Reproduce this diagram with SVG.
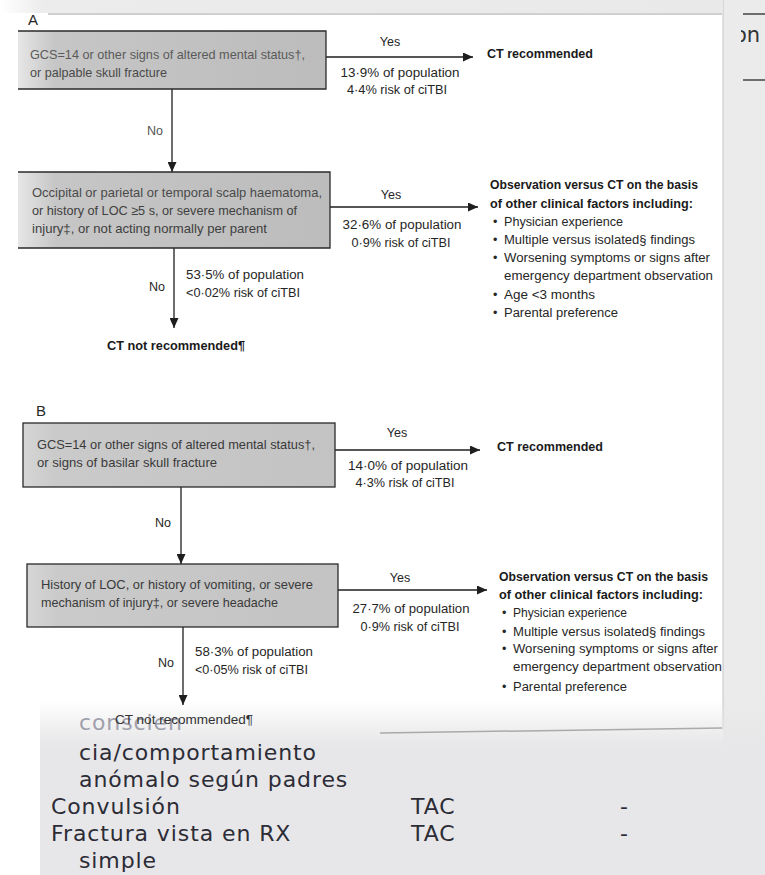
<svg xmlns="http://www.w3.org/2000/svg" width="765" height="875" viewBox="0 0 765 875">
<defs>
<style>
.t{font-family:"Liberation Sans",Arial,sans-serif;font-size:12.5px;fill:#262626}
.bx{font-size:13px;fill:#3a3a3a}
.bd{font-weight:bold;font-size:13px;fill:#1a1a1a}
.sl{font-family:"DejaVu Sans","Noto Sans",sans-serif;font-size:22px;fill:#2c2c36;letter-spacing:0.9px}
.ln{stroke:#1e1e1e;stroke-width:1.3;fill:none}
.bs{stroke:#2a2a2a;stroke-width:1.3;fill:none}
</style>
<marker id="ah" markerUnits="userSpaceOnUse" markerWidth="11" markerHeight="9" refX="10" refY="4.5" orient="auto">
<path d="M0,0 L10,4.5 L0,9 z" fill="#1e1e1e"/>
</marker>
<linearGradient id="gA" x1="0" y1="0" x2="1" y2="0">
<stop offset="0" stop-color="#e6e6e6"/><stop offset="0.12" stop-color="#c6c6c6"/><stop offset="1" stop-color="#bcbcbc"/>
</linearGradient>
<linearGradient id="gB" x1="0" y1="0" x2="1" y2="0">
<stop offset="0" stop-color="#d6d6d6"/><stop offset="0.1" stop-color="#cacaca"/><stop offset="1" stop-color="#c3c3c3"/>
</linearGradient>
<linearGradient id="gTop" x1="0" y1="0" x2="1" y2="0">
<stop offset="0" stop-color="#ffffff"/><stop offset="0.06" stop-color="#ececec"/><stop offset="1" stop-color="#e9e9e9"/>
</linearGradient>
<linearGradient id="gSlide" x1="0" y1="0" x2="0" y2="1">
<stop offset="0" stop-color="#e7e7e9" stop-opacity="0"/><stop offset="0.2" stop-color="#e7e7e9" stop-opacity="0.8"/><stop offset="0.27" stop-color="#e7e7e9" stop-opacity="1"/><stop offset="1" stop-color="#e7e7e9" stop-opacity="1"/>
</linearGradient>
<clipPath id="cOn"><rect x="741" y="0" width="24" height="80"/></clipPath>
</defs>

<g id="background">
<rect x="0" y="0" width="765" height="875" fill="#ffffff"/>
<rect x="723" y="0" width="42" height="875" fill="#ebebeb"/>
<line x1="723" y1="0" x2="723" y2="730" stroke="#c4c4c4" stroke-width="1"/>
<rect x="0" y="0" width="723" height="13" fill="url(#gTop)"/>
<line x1="48" y1="14" x2="722" y2="14" stroke="#a0a0a0" stroke-width="1"/>
<line x1="743" y1="14" x2="765" y2="14" stroke="#444" stroke-width="1.5"/>
<line x1="743" y1="80" x2="765" y2="80" stroke="#444" stroke-width="1.5"/>
<text x="734" y="42" clip-path="url(#cOn)" style="font-family:'DejaVu Sans',sans-serif;font-size:21px;fill:#333">on</text>
<rect x="40" y="700" width="725" height="175" fill="url(#gSlide)"/>
<line x1="380" y1="733" x2="722" y2="728" stroke="#9a9a9a" stroke-width="1.5" opacity="0.8"/>
</g>

<g id="slide-text">
<text class="sl" x="79" y="730" style="fill:#a0a0ac">conscien</text>
<text class="sl" x="79" y="760">cia/comportamiento</text>
<text class="sl" x="79" y="787">anómalo según padres</text>
<text class="sl" x="51" y="814">Convulsión</text>
<text class="sl" x="411" y="814">TAC</text>
<text class="sl" x="620" y="814">-</text>
<text class="sl" x="51" y="841">Fractura vista en RX</text>
<text class="sl" x="411" y="841">TAC</text>
<text class="sl" x="620" y="841">-</text>
<text class="sl" x="79" y="868">simple</text>
</g>

<g id="labelA"><text class="t" x="28" y="25" style="font-size:15px">A</text></g>
<g id="labelB"><text class="t" x="36" y="416" style="font-size:15px">B</text></g>

<g id="connectors">
<line class="ln" x1="326" y1="57" x2="473" y2="57" marker-end="url(#ah)"/>
<line class="ln" x1="172" y1="89" x2="172" y2="172" marker-end="url(#ah)"/>
<line class="ln" x1="330" y1="207" x2="478" y2="207" marker-end="url(#ah)"/>
<line class="ln" x1="174" y1="248" x2="174" y2="328" marker-end="url(#ah)"/>
<line class="ln" x1="335" y1="450" x2="480" y2="450" marker-end="url(#ah)"/>
<line class="ln" x1="181" y1="487" x2="181" y2="564" marker-end="url(#ah)"/>
<line class="ln" x1="338" y1="590" x2="487" y2="590" marker-end="url(#ah)"/>
<line class="ln" x1="183" y1="627" x2="183" y2="705" marker-end="url(#ah)"/>
<text class="t" x="390" y="46" text-anchor="middle">Yes</text>
<text class="t" x="400" y="77" text-anchor="middle" textLength="119" lengthAdjust="spacingAndGlyphs">13·9% of population</text>
<text class="t" x="397" y="94" text-anchor="middle" textLength="100" lengthAdjust="spacingAndGlyphs">4·4% risk of ciTBI</text>
<text class="t" x="155" y="135" text-anchor="middle" style="fill:#555">No</text>
<text class="t" x="391" y="199" text-anchor="middle">Yes</text>
<text class="t" x="402" y="229" text-anchor="middle" textLength="119" lengthAdjust="spacingAndGlyphs">32·6% of population</text>
<text class="t" x="401" y="247" text-anchor="middle" textLength="99" lengthAdjust="spacingAndGlyphs">0·9% risk of ciTBI</text>
<text class="t" x="157" y="291" text-anchor="middle">No</text>
<text class="t" x="186" y="279" textLength="118" lengthAdjust="spacingAndGlyphs">53·5% of population</text>
<text class="t" x="186" y="297" textLength="114" lengthAdjust="spacingAndGlyphs">&lt;0·02% risk of ciTBI</text>
<text class="t" x="397" y="437" text-anchor="middle">Yes</text>
<text class="t" x="408" y="470" text-anchor="middle" textLength="120" lengthAdjust="spacingAndGlyphs">14·0% of population</text>
<text class="t" x="405" y="487" text-anchor="middle" textLength="99" lengthAdjust="spacingAndGlyphs">4·3% risk of ciTBI</text>
<text class="t" x="163" y="527" text-anchor="middle">No</text>
<text class="t" x="400" y="582" text-anchor="middle">Yes</text>
<text class="t" x="411" y="613" text-anchor="middle" textLength="117" lengthAdjust="spacingAndGlyphs">27·7% of population</text>
<text class="t" x="410" y="631" text-anchor="middle" textLength="99" lengthAdjust="spacingAndGlyphs">0·9% risk of ciTBI</text>
<text class="t" x="166" y="667" text-anchor="middle">No</text>
<text class="t" x="195" y="656" textLength="118" lengthAdjust="spacingAndGlyphs">58·3% of population</text>
<text class="t" x="195" y="674" textLength="113" lengthAdjust="spacingAndGlyphs">&lt;0·05% risk of ciTBI</text>
</g>

<g id="nodeA1">
<rect x="18" y="31" width="308" height="58" fill="url(#gA)"/>
<path class="bs" d="M18,31 H326 V89 H18"/>
<text class="t bx" x="30" y="59" style="fill:#5a5a5a" textLength="275" lengthAdjust="spacingAndGlyphs">GCS=14 or other signs of altered mental status†,</text>
<text class="t bx" x="30" y="77" style="fill:#4a4a4a" textLength="137" lengthAdjust="spacingAndGlyphs">or palpable skull fracture</text>
</g>

<g id="nodeA1-yes">
<text class="t bd" x="487" y="58" textLength="106" lengthAdjust="spacingAndGlyphs">CT recommended</text>
</g>

<g id="nodeA2">
<rect x="18" y="172" width="312" height="76" fill="url(#gA)"/>
<path class="bs" d="M18,172 H330 V248 H18"/>
<text class="t bx" x="32" y="197" style="fill:#4a4a4a" textLength="290" lengthAdjust="spacingAndGlyphs">Occipital or parietal or temporal scalp haematoma,</text>
<text class="t bx" x="32" y="215" style="fill:#404040" textLength="265" lengthAdjust="spacingAndGlyphs">or history of LOC ≥5 s, or severe mechanism of</text>
<text class="t bx" x="32" y="233" style="fill:#404040" textLength="235" lengthAdjust="spacingAndGlyphs">injury‡, or not acting normally per parent</text>
</g>

<g id="nodeA2-yes">
<text class="t bd" x="490" y="189" textLength="208" lengthAdjust="spacingAndGlyphs">Observation versus CT on the basis</text>
<text class="t bd" x="490" y="208" textLength="203" lengthAdjust="spacingAndGlyphs">of other clinical factors including:</text>
<text class="t" x="493" y="226">•</text><text class="t" x="504" y="226" textLength="119" lengthAdjust="spacingAndGlyphs">Physician experience</text>
<text class="t" x="493" y="244">•</text><text class="t" x="504" y="244" textLength="191" lengthAdjust="spacingAndGlyphs">Multiple versus isolated§ findings</text>
<text class="t" x="493" y="262">•</text><text class="t" x="504" y="262" textLength="206" lengthAdjust="spacingAndGlyphs">Worsening symptoms or signs after</text>
<text class="t" x="504" y="280" textLength="209" lengthAdjust="spacingAndGlyphs">emergency department observation</text>
<text class="t" x="493" y="299">•</text><text class="t" x="504" y="299" textLength="91" lengthAdjust="spacingAndGlyphs">Age &lt;3 months</text>
<text class="t" x="493" y="317">•</text><text class="t" x="504" y="317" textLength="114" lengthAdjust="spacingAndGlyphs">Parental preference</text>
</g>

<g id="nodeA2-no">
<text class="t bd" x="107" y="350" textLength="138" lengthAdjust="spacingAndGlyphs">CT not recommended¶</text>
</g>

<g id="nodeB1">
<rect x="23" y="423" width="312" height="64" fill="url(#gB)"/>
<rect class="bs" x="23" y="423" width="312" height="64"/>
<text class="t bx" x="37" y="449" textLength="278" lengthAdjust="spacingAndGlyphs">GCS=14 or other signs of altered mental status†,</text>
<text class="t bx" x="37" y="467" textLength="180" lengthAdjust="spacingAndGlyphs">or signs of  basilar skull fracture</text>
</g>

<g id="nodeB1-yes">
<text class="t bd" x="497" y="451" textLength="106" lengthAdjust="spacingAndGlyphs">CT recommended</text>
</g>

<g id="nodeB2">
<rect x="27" y="564" width="311" height="63" fill="url(#gB)"/>
<rect class="bs" x="27" y="564" width="311" height="63"/>
<text class="t bx" x="41" y="589" textLength="272" lengthAdjust="spacingAndGlyphs">History of LOC, or history of vomiting, or severe</text>
<text class="t bx" x="41" y="607" textLength="237" lengthAdjust="spacingAndGlyphs">mechanism of injury‡, or severe headache</text>
</g>

<g id="nodeB2-yes">
<text class="t bd" x="499" y="581" textLength="209" lengthAdjust="spacingAndGlyphs">Observation versus CT on the basis</text>
<text class="t bd" x="499" y="599" textLength="204" lengthAdjust="spacingAndGlyphs">of other clinical factors including:</text>
<text class="t" x="502" y="617">•</text><text class="t" x="513" y="617" textLength="114" lengthAdjust="spacingAndGlyphs">Physician experience</text>
<text class="t" x="502" y="636">•</text><text class="t" x="513" y="636" textLength="192" lengthAdjust="spacingAndGlyphs">Multiple versus isolated§ findings</text>
<text class="t" x="502" y="653">•</text><text class="t" x="513" y="653" textLength="205" lengthAdjust="spacingAndGlyphs">Worsening symptoms or signs after</text>
<text class="t" x="513" y="671" textLength="209" lengthAdjust="spacingAndGlyphs">emergency department observation</text>
<text class="t" x="502" y="691">•</text><text class="t" x="513" y="691" textLength="114" lengthAdjust="spacingAndGlyphs">Parental preference</text>
</g>

<g id="nodeB2-no">
<text class="t" x="115" y="724" style="font-size:12px;fill:#333" textLength="138" lengthAdjust="spacingAndGlyphs">CT not recommended¶</text>
</g>
</svg>
